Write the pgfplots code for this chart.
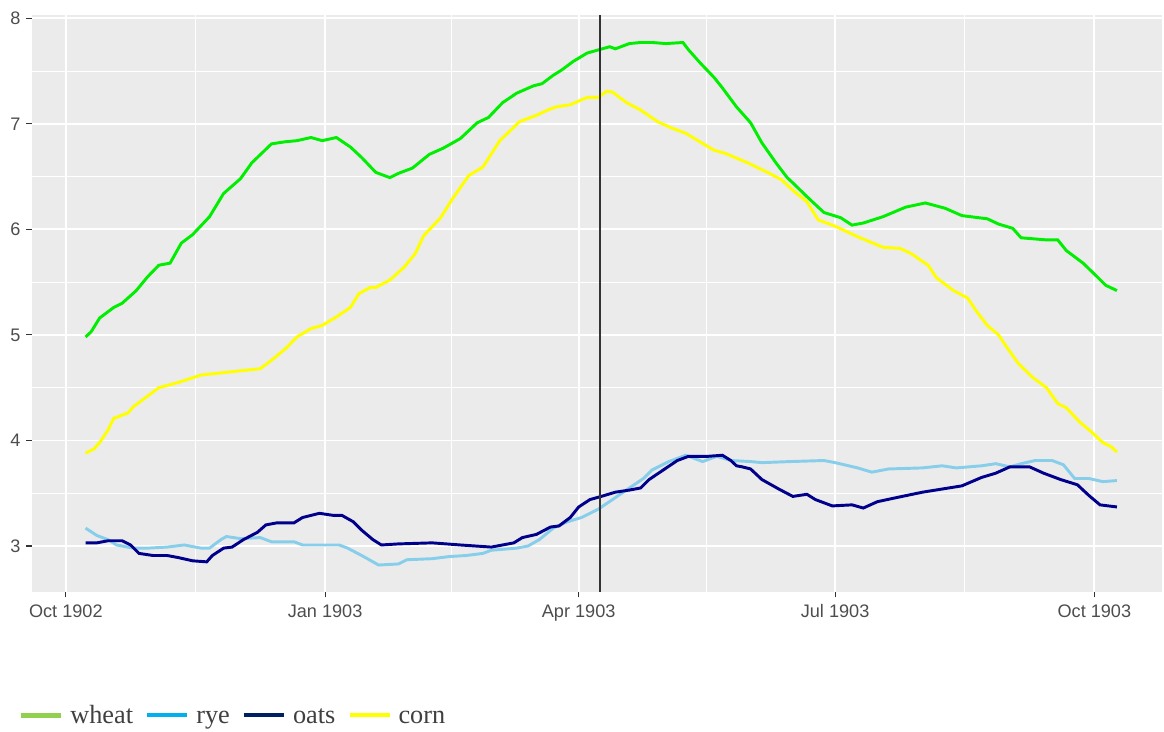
\documentclass[border=0pt]{standalone}
\usepackage{pgfplots}
\pgfplotsset{compat=1.18}
\usepackage{fontspec}
\setmainfont{Liberation Serif}
\newfontfamily\arialf{Liberation Sans}
\definecolor{panel}{HTML}{EBEBEB}
\definecolor{tickcol}{HTML}{333333}
\definecolor{labcol}{HTML}{4D4D4D}
\definecolor{legtext}{HTML}{404040}
\definecolor{wheatc}{HTML}{00EE00}
\definecolor{ryec}{HTML}{87CEEB}
\definecolor{oatsc}{HTML}{00008B}
\definecolor{cornc}{HTML}{FFFF00}
\definecolor{lwheat}{HTML}{92D050}
\definecolor{lrye}{HTML}{00B0F0}
\definecolor{loats}{HTML}{002060}
\definecolor{lcorn}{HTML}{FFFF00}
\begin{document}
\begin{tikzpicture}
\begin{axis}[
  scale only axis, width=847.5pt, height=432.5pt,
  xmin=-12, xmax=389, ymin=2.567, ymax=8.03,
  axis background/.style={fill=panel},
  axis line style={draw=none},
  xtick={0,92,182,273,365},
  xticklabels={Oct 1902, Jan 1903, Apr 1903, Jul 1903, Oct 1903},
  minor xtick={46,137,227.5,319},
  ytick={3,4,5,6,7,8},
  minor ytick={3.5,4.5,5.5,6.5,7.5},
  grid=both,
  major grid style={white, line width=1.4pt},
  minor grid style={white, line width=0.7pt},
  tick align=outside, tick pos=left,
  major tick length=4.2pt, minor tick length=0pt,
  major tick style={color=tickcol, line width=0.8pt},
  ticklabel style={font=\arialf\fontsize{13.6}{15}\selectfont, text=labcol},
  /pgf/number format/assume math mode=true,
  xticklabel style={text height=9.8pt, text depth=0pt, yshift=-2pt},
  yticklabel style={xshift=-1pt},
  legend columns=4,
  legend style={at={(axis description cs:0,0)}, anchor=west,
    xshift=-10.5pt, yshift=-94.5pt, draw=none, fill=none,
    inner sep=0pt, outer sep=0pt,
    font=\fontsize{19.7}{21}\selectfont, text=legtext,
    nodes={inner sep=0pt, text height=13.5pt, text depth=4.5pt},
    /tikz/every odd column/.append style={column sep=5.5pt},
    /tikz/every even column/.append style={column sep=9.5pt}},
  legend image code/.code={\draw[#1] (0pt,2pt) -- (30pt,2pt);},
]
\addlegendimage{lwheat, line width=3.8pt}
\addlegendentry{wheat}
\addlegendimage{lrye, line width=2.4pt}
\addlegendentry{rye}
\addlegendimage{loats, line width=2.4pt}
\addlegendentry{oats}
\addlegendimage{lcorn, line width=2.4pt}
\addlegendentry{corn}

% rye
\addplot[ryec, line width=2.2pt, forget plot] coordinates {
(7,3.17)(11,3.10)(15,3.06)(18,3.01)(24,2.98)(29,2.98)(36,2.99)(42,3.01)(48,2.98)(51,2.98)(55,3.06)(57,3.09)(62,3.07)(69,3.08)(73,3.04)(81,3.04)(84,3.01)(97,3.01)(100,2.98)(105,2.91)(111,2.82)(118,2.83)(121,2.87)(130,2.88)(136,2.90)(142,2.91)(148,2.93)(151,2.96)(160,2.98)(164,3.00)(168,3.06)(173,3.17)(178,3.23)(183,3.27)(189,3.35)(194,3.44)(200,3.55)(205,3.64)(208,3.72)(214,3.80)(220,3.86)(226,3.80)(231,3.85)(236,3.81)(243,3.80)(247,3.79)(257,3.80)(269,3.81)(273,3.79)(281,3.74)(286,3.70)(292,3.73)(304,3.74)(311,3.76)(316,3.74)(325,3.76)(330,3.78)(335,3.75)(339,3.78)(344,3.81)(350,3.81)(354,3.77)(358,3.64)(363,3.64)(368,3.61)(373,3.62)
};
% oats
\addplot[oatsc, line width=2.2pt, forget plot] coordinates {
(7,3.03)(11,3.03)(15,3.05)(20,3.05)(23,3.01)(26,2.93)(31,2.91)(36,2.91)(40,2.89)(45,2.86)(50,2.85)(52,2.91)(56,2.98)(59,2.99)(63,3.06)(68,3.13)(71,3.20)(75,3.22)(81,3.22)(84,3.27)(90,3.31)(95,3.29)(98,3.29)(102,3.23)(105,3.15)(109,3.06)(112,3.01)(118,3.02)(130,3.03)(140,3.01)(151,2.99)(159,3.03)(162,3.08)(167,3.11)(172,3.18)(175,3.19)(179,3.27)(182,3.37)(186,3.44)(190,3.47)(195,3.51)(200,3.53)(204,3.55)(207,3.63)(212,3.72)(217,3.81)(221,3.85)(228,3.85)(233,3.86)(236,3.81)(238,3.76)(240,3.75)(243,3.73)(247,3.63)(253,3.54)(258,3.47)(263,3.49)(266,3.44)(272,3.38)(279,3.39)(283,3.36)(288,3.42)(295,3.46)(304,3.51)(311,3.54)(318,3.57)(325,3.65)(330,3.69)(335,3.75)(342,3.75)(347,3.69)(353,3.63)(359,3.58)(363,3.48)(367,3.39)(373,3.37)
};
% corn
\addplot[cornc, line width=2.2pt, forget plot] coordinates {
(7,3.88)(10,3.92)(12,3.98)(15,4.10)(17,4.21)(22,4.26)(24,4.32)(27,4.38)(33,4.50)(40,4.55)(48,4.62)(55,4.64)(62,4.66)(69,4.68)(73,4.76)(78,4.87)(82,4.98)(87,5.06)(91,5.09)(96,5.17)(101,5.26)(104,5.39)(108,5.45)(110,5.45)(115,5.52)(120,5.64)(124,5.77)(127,5.94)(133,6.11)(137,6.28)(143,6.51)(148,6.59)(154,6.84)(161,7.02)(167,7.08)(171,7.13)(174,7.16)(179,7.18)(185,7.25)(189,7.25)(192,7.31)(194,7.30)(199,7.20)(204,7.13)(210,7.02)(215,6.96)(220,6.91)(225,6.83)(230,6.75)(234,6.72)(242,6.63)(249,6.54)(254,6.47)(258,6.37)(263,6.26)(267,6.09)(273,6.03)(281,5.93)(290,5.83)(296,5.82)(300,5.77)(306,5.66)(309,5.54)(315,5.42)(320,5.35)(323,5.23)(327,5.09)(331,5.00)(334,4.88)(338,4.73)(343,4.60)(348,4.50)(352,4.35)(355,4.31)(360,4.17)(364,4.08)(368,3.98)(371,3.94)(373,3.89)
};
% wheat
\addplot[wheatc, line width=2.2pt, forget plot] coordinates {
(7,4.98)(9,5.03)(12,5.16)(17,5.26)(20,5.30)(25,5.42)(29,5.55)(33,5.66)(37,5.68)(41,5.87)(45,5.95)(51,6.12)(56,6.34)(62,6.48)(66,6.63)(73,6.81)(78,6.83)(82,6.84)(87,6.87)(91,6.84)(96,6.87)(101,6.78)(105,6.68)(110,6.54)(115,6.49)(118,6.53)(123,6.58)(129,6.71)(134,6.77)(140,6.86)(146,7.01)(150,7.06)(155,7.20)(160,7.29)(166,7.36)(169,7.38)(173,7.46)(176,7.51)(180,7.59)(185,7.67)(189,7.70)(193,7.73)(195,7.71)(200,7.76)(204,7.77)(208,7.77)(213,7.76)(219,7.77)(221,7.70)(225,7.58)(230,7.44)(233,7.34)(238,7.16)(243,7.01)(247,6.82)(252,6.63)(256,6.49)(258,6.44)(263,6.31)(269,6.16)(275,6.11)(279,6.04)(283,6.06)(290,6.12)(298,6.21)(305,6.25)(312,6.20)(318,6.13)(327,6.10)(331,6.05)(336,6.01)(339,5.92)(348,5.90)(352,5.90)(355,5.80)(361,5.68)(366,5.55)(369,5.47)(373,5.42)
};
% reference date line
\addplot[tickcol, line width=1.5pt, forget plot] coordinates {(189.4,2.567)(189.4,8.03)};
\end{axis}
\pgfresetboundingbox
\path (-24pt,-104.5pt) rectangle (849pt,443.8pt);
\end{tikzpicture}
\end{document}
